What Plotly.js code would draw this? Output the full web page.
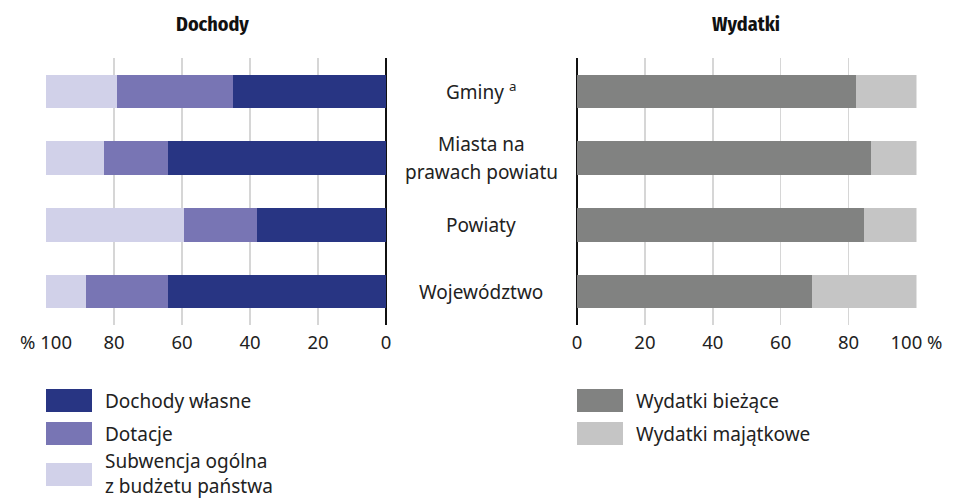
<!DOCTYPE html>
<html>
<head>
<meta charset="utf-8">
<script src="https://cdn.plot.ly/plotly-3.0.1.min.js"></script>
<style>
  html, body { margin: 0; padding: 0; background: #fff; }
  #chart { width: 962px; height: 498px; }
</style>
</head>
<body>
<div id="chart"></div>
<script>
// categories, top to bottom
const regions = ['Gminy', 'Miasta na prawach powiatu', 'Powiaty', 'Województwo'];
const regionLabels = ['Gminy <sup>a</sup>', 'Miasta na<br>prawach powiatu', 'Powiaty', 'Województwo'];

// income structure (%)
const dochodyWlasne = [45.1, 64.1, 38.0, 64.1];
const dotacje = [33.9, 18.9, 21.4, 24.1];
const subwencja = [21.0, 17.0, 40.6, 11.8];

// expenditure structure (%)
const wydatkiBiezace = [82.2, 86.7, 84.6, 69.2];
const wydatkiMajatkowe = [17.8, 13.3, 15.4, 30.8];

const leftTicks = [100, 80, 60, 40, 20, 0];
const leftTickText = ['% 100', '80', '60', '40', '20', '0'];
const rightTicks = [0, 20, 40, 60, 80, 100];
const rightTickText = ['0', '20', '40', '60', '80', '100 %'];

const incomeNames = ['Dochody własne', 'Dotacje', 'Subwencja ogólna<br>z budżetu państwa'];
const incomeColors = ['#283583', '#7875b4', '#d1d1e9'];
const expenseNames = ['Wydatki bieżące', 'Wydatki majątkowe'];
const expenseColors = ['#818281', '#c5c5c5'];

const FONT = '"Noto Sans", "Open Sans", sans-serif';
const TITLE_FONT = '"Fira Sans Condensed", "Fira Sans", "Liberation Sans Narrow", sans-serif';
const W = 962, H = 498;

function bar(values, name, color, xa, ya) {
  return {
    type: 'bar', orientation: 'h',
    x: values, y: regions, name: name,
    xaxis: xa, yaxis: ya,
    marker: { color: color, line: { width: 0 } },
    hoverinfo: 'x+name', showlegend: false
  };
}

const incomeSeries = [dochodyWlasne, dotacje, subwencja];
const expenseSeries = [wydatkiBiezace, wydatkiMajatkowe];

const data = [];
incomeSeries.forEach((v, i) => data.push(bar(v, incomeNames[i], incomeColors[i], 'x', 'y')));
expenseSeries.forEach((v, i) => data.push(bar(v, expenseNames[i], expenseColors[i], 'x2', 'y2')));

const px = x => x / W;
const py = y => 1 - y / H;

const textColor = '#222';
const axisFont = { family: FONT, size: 18.5, color: textColor };

const annotations = [
  { text: '<b>Dochody</b>', x: px(212), y: py(24), xref: 'paper', yref: 'paper',
    xanchor: 'center', yanchor: 'middle',
    showarrow: false, font: { family: TITLE_FONT, size: 20, color: '#111' } },
  { text: '<b>Wydatki</b>', x: px(746), y: py(24), xref: 'paper', yref: 'paper',
    xanchor: 'center', yanchor: 'middle',
    showarrow: false, font: { family: TITLE_FONT, size: 20, color: '#111' } }
];

// category names sit between the two panels; multi-line names get wider line spacing
regionLabels.forEach((t, i) => {
  const lines = t.split('<br>');
  const lineGap = 28;
  lines.forEach((line, k) => annotations.push({
    text: line, x: px(481), y: regions[i], xref: 'paper', yref: 'y',
    xanchor: 'center', yanchor: 'middle',
    yshift: ((lines.length - 1) / 2 - k) * lineGap,
    showarrow: false, align: 'center',
    font: { family: FONT, size: 19, color: textColor }
  }));
});

// legend boxes and labels
const shapes = [];
function legendItem(x0, top, color, label, textDy) {
  shapes.push({ type: 'rect', xref: 'paper', yref: 'paper',
    x0: px(x0), x1: px(x0 + 46), y0: py(top + 23), y1: py(top),
    fillcolor: color, line: { width: 0 } });
  annotations.push({ text: label, xref: 'paper', yref: 'paper',
    x: px(x0 + 57), y: py(top + 11.5 + (textDy || 0)), xanchor: 'left', yanchor: 'middle',
    showarrow: false, align: 'left', font: { family: FONT, size: 19, color: textColor } });
}
const legendTops = [389, 422, 463];
incomeNames.forEach((n, i) => legendItem(46, legendTops[i], incomeColors[i], n, i === 2 ? -1 : 0));
expenseNames.forEach((n, i) => legendItem(577, legendTops[i], expenseColors[i], n, 0));

const yDomain = [py(325), py(58)];

const layout = {
  width: W, height: H,
  margin: { l: 0, r: 0, t: 0, b: 0 },
  paper_bgcolor: '#fff', plot_bgcolor: '#fff',
  barmode: 'stack', bargap: 0.5,
  showlegend: false,
  font: { family: FONT, color: textColor },
  xaxis: {
    domain: [px(46), px(386)], range: [100, 0], automargin: false,
    tickvals: leftTicks, ticktext: leftTickText, tickfont: axisFont,
    showgrid: true, gridcolor: '#d6d6d6', gridwidth: 1.5,
    zeroline: true, zerolinecolor: '#111', zerolinewidth: 1.5,
    ticks: '', ticklabelstandoff: 4, fixedrange: true
  },
  yaxis: {
    domain: yDomain, autorange: 'reversed', showticklabels: false,
    showgrid: false, zeroline: false, automargin: false, fixedrange: true
  },
  xaxis2: {
    domain: [px(577), px(916.5)], range: [0, 100], anchor: 'y2', automargin: false,
    tickvals: rightTicks, ticktext: rightTickText, tickfont: axisFont,
    showgrid: true, gridcolor: '#d6d6d6', gridwidth: 1.5,
    zeroline: true, zerolinecolor: '#111', zerolinewidth: 1.5,
    ticks: '', ticklabelstandoff: 4, fixedrange: true
  },
  yaxis2: {
    domain: yDomain, anchor: 'x2', autorange: 'reversed', showticklabels: false,
    showgrid: false, zeroline: false, automargin: false, fixedrange: true
  },
  annotations: annotations,
  shapes: shapes
};

Plotly.newPlot('chart', data, layout, { displayModeBar: false, staticPlot: true });
</script>
</body>
</html>
